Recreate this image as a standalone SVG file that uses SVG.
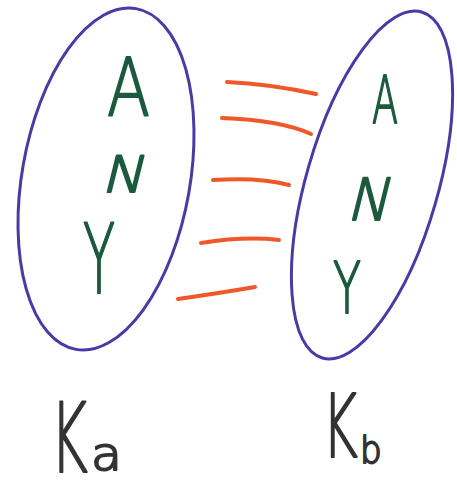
<svg xmlns="http://www.w3.org/2000/svg" width="457" height="481" viewBox="0 0 457 481">
<style>
.set{fill:none;stroke:#4b3aa6;stroke-width:3}
.let{font-family:"DejaVu Sans","Liberation Sans",sans-serif;font-weight:200;fill:#1c5a3e;stroke:#1c5a3e;stroke-width:2;stroke-linejoin:round}
.lbl{font-family:"DejaVu Sans","Liberation Sans",sans-serif;font-weight:200;fill:#333;stroke:#333;stroke-width:2;stroke-linejoin:round}
.con{fill:none;stroke:#f0582a;stroke-width:4;stroke-linecap:round}
</style>
<rect width="457" height="481" fill="#fff"/>
<g id="set-a">
<ellipse class="set" cx="106" cy="179" rx="84" ry="173" transform="rotate(10 106 179)"/>
<text class="let" x="107" y="115" font-size="80" textLength="43" lengthAdjust="spacingAndGlyphs">A</text>
<text class="let" transform="translate(101 192) skewX(-14)" font-size="50" textLength="42" lengthAdjust="spacingAndGlyphs">N</text>
<text class="let" x="83" y="293" font-size="96" textLength="32" lengthAdjust="spacingAndGlyphs">Y</text>
</g>
<g id="set-b">
<ellipse class="set" cx="372" cy="185" rx="66" ry="180" transform="rotate(16 372 185)"/>
<text class="let" x="372" y="123" font-size="66" textLength="26" lengthAdjust="spacingAndGlyphs">A</text>
<text class="let" transform="translate(346 220) skewX(-14)" font-size="58" textLength="42" lengthAdjust="spacingAndGlyphs">N</text>
<text class="let" x="333" y="313" font-size="72" textLength="28" lengthAdjust="spacingAndGlyphs">Y</text>
</g>
<g id="connectors">
<path class="con" d="M227 82 Q270 84 316 94"/>
<path class="con" d="M222 118 Q280 120 311 134"/>
<path class="con" d="M213 180 Q260 177 289 185"/>
<path class="con" d="M201 243 Q245 236 279 240"/>
<path class="con" d="M178 299 Q220 293 255 287"/>
</g>
<g id="label-ka">
<text class="lbl" transform="translate(50 472) scale(0.6 1)" font-size="96">K</text>
<text class="lbl" transform="translate(91 470) scale(1.1 1)" font-size="46">a</text>
</g>
<g id="label-kb">
<text class="lbl" transform="translate(322 457) scale(0.62 1)" font-size="88">K</text>
<text class="lbl" transform="translate(360 463) scale(0.9 1)" font-size="38">b</text>
</g>
</svg>
